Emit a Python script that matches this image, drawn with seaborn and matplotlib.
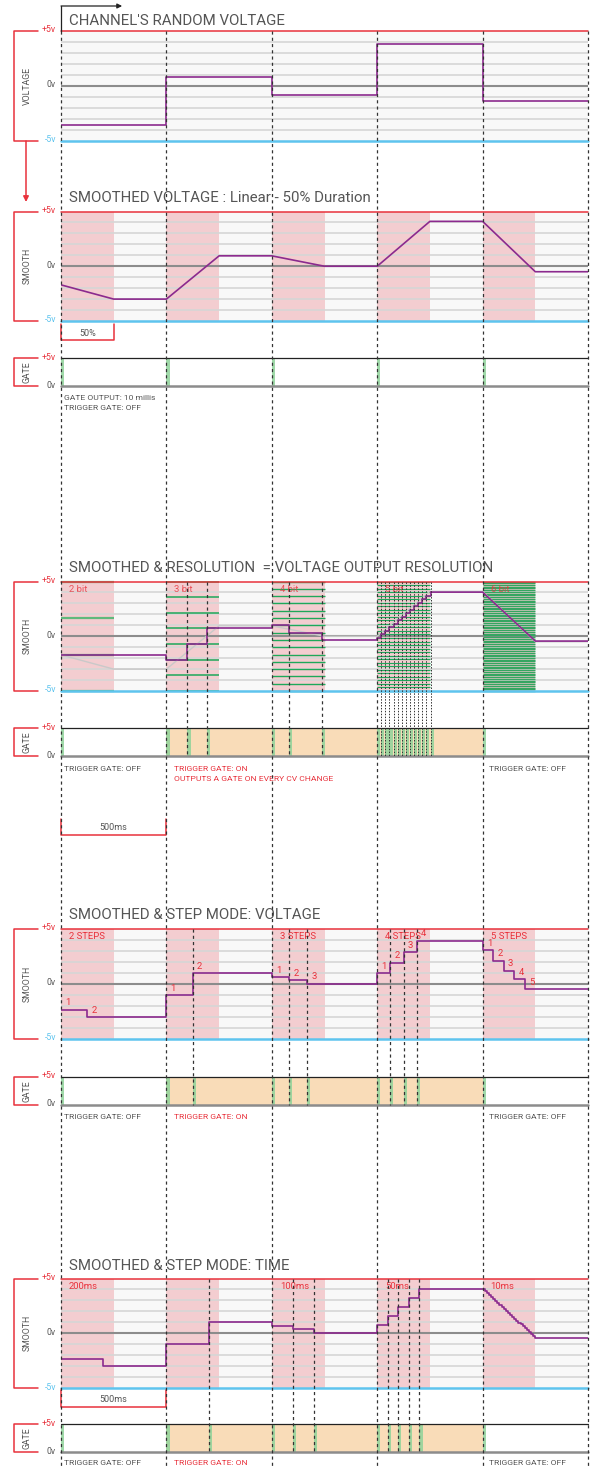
import numpy as np
import matplotlib
matplotlib.use("Agg")
import matplotlib.pyplot as plt
from matplotlib.lines import Line2D
import seaborn as sns

# ---------------- data (times in ms, voltages in v) ----------------
SEG_EDGES = [0, 500, 1000, 1500, 2000, 2500]
SEG_STARTS = [0, 500, 1000, 1500, 2000]

# channel's random voltage, one value per 500ms segment
RANDOM_V = [-3.55, 0.8, -0.88, 3.82, -1.36]

# smoothed voltage (linear, 50% duration) knots
SMOOTH_T = [0, 250, 500, 750, 1000, 1250, 1500, 1750, 2000, 2250, 2500]
SMOOTH_V = [-1.7, -3.0, -3.0, 0.95, 0.95, 0.0, 0.0, 4.1, 4.1, -0.5, -0.5]

# resolution section
RES_BITS = [2, 3, 4, 5, 6]
RES_LABELS = ["2 bit", "3 bit", "4 bit", "5 bit", "6 bit"]
RES_T = [0, 500, 600, 693, 1000, 1081, 1237,
         1500, 1519, 1539, 1558, 1578, 1597, 1617, 1636, 1656, 1675, 1694, 1714, 1733, 1753]
RES_V = [-1.67, -2.14, -0.71, 0.71, 1.0, 0.33, -0.33,
         -0.16, 0.16, 0.48, 0.81, 1.13, 1.45, 1.77, 2.10, 2.42, 2.74, 3.06, 3.39, 3.71, 4.03]
RES6_T = [1753, 2000, 2250, 2500]
RES6_V = [4.03, 4.03, -0.44, -0.44]
RES_GATES = [0, 500, 600, 693, 1000, 1081, 1237,
             1500, 1519, 1539, 1558, 1578, 1597, 1617, 1636, 1656, 1675, 1694, 1714, 1733, 1753, 2000]
RES_DASH = [600, 693, 1081, 1237]
RES5_DASH = [1519, 1539, 1558, 1578, 1597, 1617, 1636, 1656, 1675, 1694, 1714, 1733, 1753]

# step mode: voltage
STEPV_LABELS = ["2 STEPS", "", "3 STEPS", "4 STEPS", "5 STEPS"]
STEPV_T = [0, 125, 500, 625, 1000, 1083, 1167, 1500, 1562, 1625, 1687, 2000, 2050, 2100, 2150, 2200]
STEPV_V = [-2.38, -3.08, -1.07, 0.94, 0.6, 0.3, 0.0, 0.94, 1.9, 2.86, 3.9, 3.05, 2.1, 1.2, 0.4, -0.5]
STEPV_NUM = ["1", "2", "1", "2", "1", "2", "3", "1", "2", "3", "4", "1", "2", "3", "4", "5"]
STEPV_GATES = [0, 500, 625, 1000, 1083, 1167, 1500, 1562, 1625, 1687, 2000]
STEPV_DASH = [625, 1083, 1167, 1562, 1625, 1687]

# step mode: time
STEPT_LABELS = ["200ms", "", "100ms", "50ms", "10ms"]
STEPT_T = [0, 200, 500, 700, 1000, 1100, 1200, 1500, 1550, 1600, 1650, 1700,
           2000, 2010, 2020, 2030, 2040, 2050, 2060, 2070, 2080, 2090, 2100, 2110, 2120,
           2130, 2140, 2150, 2160, 2170, 2180, 2190, 2200, 2210, 2220, 2230, 2240, 2250]
STEPT_V = [-2.31, -2.97, -1.0, 1.03, 0.66, 0.36, 0.0, 0.78, 1.6, 2.39, 3.18, 4.03,
           4.03, 3.85, 3.67, 3.49, 3.31, 3.13, 2.96, 2.78, 2.60, 2.42, 2.24, 2.06, 1.88,
           1.70, 1.52, 1.34, 1.16, 0.98, 0.80, 0.62, 0.45, 0.27, 0.09, -0.09, -0.27, -0.45]
STEPT_GATES = [0, 500, 700, 1000, 1100, 1200, 1500, 1550, 1600, 1650, 1700, 2000]
STEPT_DASH = [700, 1100, 1200, 1550, 1600, 1650, 1700]

GRID_V = [-4, -3, -2, -1, 1, 2, 3, 4]

# ---------------- style ----------------
RED = "#e8323c"
BLUE = "#5ec4ee"
PURPLE = "#8b2a8e"
PINK = "#f3cdd0"
BG = "#f8f8f8"
GRID = "#d6d6d6"
ZERO = "#8c8c8c"
ORANGE = "#f9dcb8"
GATE_GREEN = "#8fd39a"
QGREEN = "#1ea85a"
TXT = "#555555"

sns.set_style("white")
plt.rcParams['font.family'] = ['Roboto', 'DejaVu Sans']

W, H = 593, 1466
X0, X1 = 61, 588
fig = plt.figure(figsize=(W / 100, H / 100), dpi=100)
renderer = fig.canvas.get_renderer()


def add_px_axes(x0, y0, x1, y1, z=1):
    ax = fig.add_axes([x0 / W, 1 - y1 / H, (x1 - x0) / W, (y1 - y0) / H])
    ax.set_zorder(z)
    ax.set_xticks([])
    ax.set_yticks([])
    for sp in ax.spines.values():
        sp.set_visible(False)
    return ax


def fline(xs, ys, **kw):
    fig.add_artist(Line2D([x / W for x in xs], [1 - y / H for y in ys], **kw))


def ftext(x, y, s, **kw):
    return fig.text(x / W, 1 - y / H, s, **kw)


def bracket(top, bottom, label):
    fline([38, 14, 14, 38], [top, top, bottom, bottom], color=RED, lw=1.1)
    ftext(27, (top + bottom) / 2, label, rotation=90, ha='center', va='center',
          fontsize=6.3, color=TXT)


def voltage_panel(top, label, shade=True):
    bottom = top + 109.5
    ax = add_px_axes(X0, top, X1, bottom)
    ax.set_xlim(0, 2500)
    ax.set_ylim(-5, 5)
    ax.set_facecolor(BG)
    if shade:
        for s in SEG_STARTS:
            ax.axvspan(s, s + 250, color=PINK, lw=0, zorder=0)
    for v in GRID_V:
        ax.axhline(v, color=GRID, lw=1.2, zorder=1)
    ax.axhline(0, color=ZERO, lw=1.5, zorder=2)
    ax.axhline(5, color=RED, lw=1.1, clip_on=False, zorder=6)
    ax.axhline(-5, color=BLUE, lw=1.8, clip_on=False, zorder=6)
    bracket(top, bottom, label)
    ftext(56, top - 1, "+5v", ha='right', va='center', fontsize=6.3, color=RED)
    ftext(56, (top + bottom) / 2 - 1, "0v", ha='right', va='center', fontsize=6.3, color=TXT)
    ftext(56, bottom - 1, "-5v", ha='right', va='center', fontsize=6.3, color=BLUE)
    return ax


def gate_panel(top, pulses, orange=None):
    bottom = top + 28
    ax = add_px_axes(X0, top, X1, bottom)
    ax.set_xlim(0, 2500)
    ax.set_ylim(0, 5)
    ax.set_facecolor("white")
    if orange:
        ax.axvspan(orange[0], orange[1], color=ORANGE, lw=0, zorder=0)
    ax.bar(pulses, 5, width=15, align='edge', color=GATE_GREEN, alpha=0.85, lw=0, zorder=1)
    ax.axhline(5, color="#222222", lw=0.9, clip_on=False, zorder=3)
    ax.axhline(0, color=ZERO, lw=1.8, clip_on=False, zorder=3)
    bracket(top, bottom, "GATE")
    ftext(56, top - 1, "+5v", ha='right', va='center', fontsize=6.3, color=RED)
    ftext(56, bottom - 1, "0v", ha='right', va='center', fontsize=6.3, color=TXT)
    return ax


def purple(ax, t, v, steps=True):
    kw = dict(drawstyle='steps-post') if steps else {}
    sns.lineplot(x=t, y=v, ax=ax, color=PURPLE, lw=1.2, estimator=None, sort=False,
                 legend=False, zorder=5, **kw)
    ax.set_xlabel("")
    ax.set_ylabel("")


# title size: fitted so the first title spans the same width as in the reference
probe = ftext(69, 21, "CHANNEL'S RANDOM VOLTAGE", fontsize=12)
TITLE_FS = 12 * 214 / probe.get_window_extent(renderer).width
probe.remove()


def title(y, s):
    ftext(69, y, s, ha='left', va='center', fontsize=TITLE_FS, color=TXT)


def small(x, y, s, color=TXT):
    ftext(x, y, s, ha='left', va='center', fontsize=6.1, color=color)


def ms_bracket(top, bottom, x1, text):
    fline([X0, X0, x1, x1], [top, bottom, bottom, top], color=RED, lw=1.1)
    ftext((X0 + x1) / 2, (top + bottom) / 2 + 1, text, ha='center', va='center',
          fontsize=6.5, color=TXT)


# ---------------- 1. channel's random voltage ----------------
title(21, "CHANNEL'S RANDOM VOLTAGE")
ax1 = voltage_panel(31, "VOLTAGE", shade=False)
purple(ax1, SEG_EDGES, RANDOM_V + [RANDOM_V[-1]])

# ---------------- 2. smoothed voltage ----------------
title(198, "SMOOTHED VOLTAGE : Linear - 50% Duration")
ax2 = voltage_panel(211.5, "SMOOTH")
purple(ax2, SMOOTH_T, SMOOTH_V, steps=False)
ms_bracket(324, 340, 114, "50%")
gate_panel(358, SEG_STARTS)
small(64, 398, "GATE OUTPUT: 10 millis")
small(64, 408, "TRIGGER GATE: OFF")

# ---------------- 3. resolution ----------------
title(568, "SMOOTHED & RESOLUTION  = VOLTAGE OUTPUT RESOLUTION")
ax3 = voltage_panel(581.5, "SMOOTH")
q_lw = {2: 1.6, 3: 1.1, 4: 1.0, 5: 0.85, 6: 1.0}
q_col = {2: "#5fb97c", 3: QGREEN, 4: QGREEN, 5: QGREEN, 6: "#35a561"}
for s, bits, lab in zip(SEG_STARTS, RES_BITS, RES_LABELS):
    levels = np.linspace(-5, 5, 2 ** bits)
    ax3.hlines(levels, s, s + 250, color=q_col[bits], lw=q_lw[bits], zorder=3, clip_on=False)
    ax3.text(s + 38, 4.3, lab, color=RED, fontsize=6.8, alpha=0.8, va='center', zorder=4)
sns.lineplot(x=SMOOTH_T, y=SMOOTH_V, ax=ax3, color="#c9c9c9", lw=1.0, estimator=None,
             sort=False, legend=False, zorder=4)
purple(ax3, RES_T, RES_V)
purple(ax3, RES6_T, RES6_V, steps=False)
gate_panel(728.3, RES_GATES, orange=(500, 2000))
small(64, 769, "TRIGGER GATE: OFF")
small(174, 769, "TRIGGER GATE: ON", color=RED)
small(174, 779, "OUTPUTS A GATE ON EVERY CV CHANGE", color=RED)
small(489, 769, "TRIGGER GATE: OFF")
ms_bracket(819, 835, 166, "500ms")

# ---------------- 4. step mode: voltage ----------------
title(915, "SMOOTHED & STEP MODE: VOLTAGE")
ax4 = voltage_panel(929, "SMOOTH")
for s, lab in zip(SEG_STARTS, STEPV_LABELS):
    ax4.text(s + 38, 4.3, lab, color=RED, fontsize=6.8, va='center', zorder=4)
purple(ax4, STEPV_T + [2500], STEPV_V + [STEPV_V[-1]])
for t, v, n in zip(STEPV_T, STEPV_V, STEPV_NUM):
    ax4.text(t + 20, v + 0.65, n, color=RED, fontsize=6.8, va='center', zorder=6)
gate_panel(1076.7, STEPV_GATES, orange=(500, 2000))
small(64, 1117, "TRIGGER GATE: OFF")
small(174, 1117, "TRIGGER GATE: ON", color=RED)
small(489, 1117, "TRIGGER GATE: OFF")

# ---------------- 5. step mode: time ----------------
title(1266, "SMOOTHED & STEP MODE: TIME")
ax5 = voltage_panel(1278.5, "SMOOTH")
for s, lab in zip(SEG_STARTS, STEPT_LABELS):
    ax5.text(s + 38, 4.3, lab, color=RED, fontsize=6.8, va='center', zorder=4)
purple(ax5, STEPT_T + [2500], STEPT_V + [STEPT_V[-1]])
ms_bracket(1390, 1406.5, 166, "500ms")
gate_panel(1424, STEPT_GATES, orange=(500, 2000))
small(64, 1463, "TRIGGER GATE: OFF")
small(174, 1463, "TRIGGER GATE: ON", color=RED)
small(489, 1463, "TRIGGER GATE: OFF")

# ---------------- overlay: time markers ----------------
ov = fig.add_axes([X0 / W, 0, (X1 - X0) / W, 1])
ov.set_xlim(0, 2500)
ov.set_ylim(H, 0)
ov.axis('off')
ov.set_zorder(20)
dash = (0, (2.5, 2.5))
ov.vlines(SEG_EDGES, 31, H, colors="#333333", lw=0.9, linestyles=dash, clip_on=False)
ov.plot([0, 0], [6, 31], color="#222222", lw=0.9, clip_on=False)
ov.annotate('', xy=(290, 6), xytext=(0, 6),
            arrowprops=dict(arrowstyle='-|>', lw=0.9, color="#222222", mutation_scale=7,
                            shrinkA=0, shrinkB=0), annotation_clip=False)
ov.vlines(RES_DASH, 581.5, 757, colors="#333333", lw=0.9, linestyles=dash)
ov.vlines(RES5_DASH, 581.5, 757, colors="#333333", lw=0.7, linestyles=(0, (1.5, 1.5)))
ov.vlines(STEPV_DASH, 929, 1105, colors="#333333", lw=0.9, linestyles=dash)
ov.vlines(STEPT_DASH, 1278.5, 1453, colors="#333333", lw=0.9, linestyles=dash)

# red arrow between the first two sections
ov.annotate('', xy=(26, H - 202), xytext=(26, H - 141), xycoords='figure pixels',
            textcoords='figure pixels',
            arrowprops=dict(arrowstyle='-|>', lw=1.1, color=RED, mutation_scale=8,
                            shrinkA=0, shrinkB=0), annotation_clip=False)

fig.savefig("out.png", dpi=100)
